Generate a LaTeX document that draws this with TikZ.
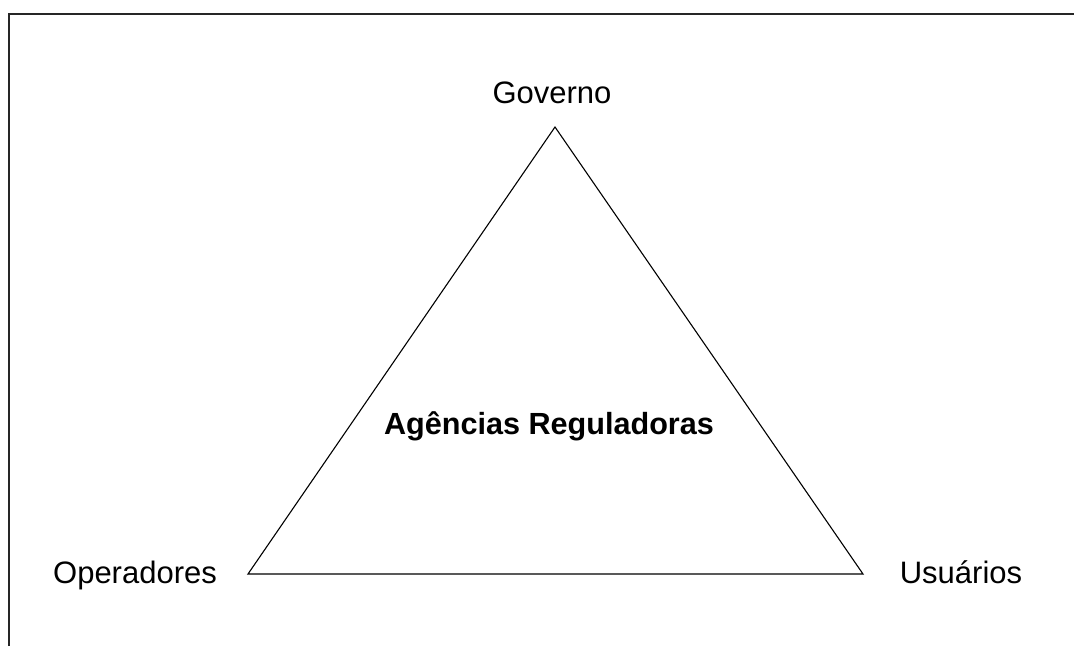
\documentclass[tikz,border=0pt]{standalone}
\usepackage{fontspec}
\setmainfont{Liberation Sans}
\begin{document}
\begin{tikzpicture}[x=1pt,y=-1pt,
  lbl/.style={font=\fontsize{31}{36}\selectfont, inner sep=0pt, anchor=base},
  tri/.style={draw=black, line width=1.1pt},
  frame/.style={draw=black!85, line width=2.5pt}]
\useasboundingbox (0,0) rectangle (1074,646);
\coordinate (fl) at (9,646);
\coordinate (ftl) at (9,14);
\coordinate (fr) at (1074,14);
\draw[frame] (fl) -- (ftl) -- (fr);
\coordinate (G) at (555,127);
\coordinate (O) at (248,574);
\coordinate (U) at (863,574);
\draw[tri] (G) -- (O) -- (U) -- cycle;
\node[lbl] (gov) at (552,103) {Governo};
\node[lbl] (ope) at (135,583) {Operadores};
\node[lbl] (usu) at (961,583) {Usuários};
\node[lbl, font=\fontsize{30.6}{36}\selectfont\bfseries] (ag) at (549,434) {Agências Reguladoras};
\end{tikzpicture}
\end{document}
